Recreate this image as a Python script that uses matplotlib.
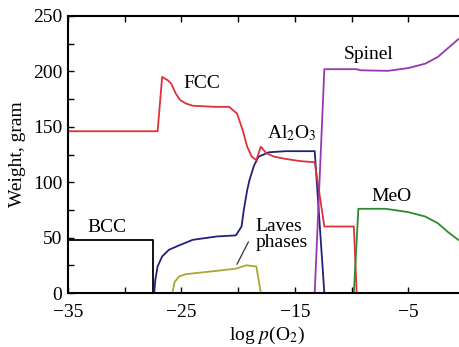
import numpy as np
import matplotlib
matplotlib.use("Agg")
import matplotlib.pyplot as plt

plt.rcParams["font.family"] = ["Liberation Serif", "DejaVu Serif"]
plt.rcParams["mathtext.fontset"] = "stix"

# 数据 (log p(O2), weight in gram)
bcc_x = [-35, -27.5, -27.5]
bcc_y = [48, 48, 0]

fcc_x = [-35, -27.1, -26.7, -26.2, -25.9, -25.5, -25.1, -24.6, -24.0, -22.0, -20.8,
         -20.1, -19.6, -19.2, -18.8, -18.4, -18.0, -17.5, -16.8, -15.8, -14.5,
         -13.25, -12.4, -9.8, -9.55]
fcc_y = [146, 146, 195, 192, 189, 180, 174, 171, 169, 168, 168,
         162, 147, 132, 123, 120, 132, 126, 123, 121, 119,
         118, 60, 60, 0]

al2o3_x = [-27.4, -27.3, -27.1, -26.7, -26.1, -25.2, -24.0, -21.9, -20.2, -19.7,
           -19.5, -19.2, -19.0, -18.6, -18.2, -17.3, -15.8, -13.25, -12.4]
al2o3_y = [0, 12, 24, 33, 39, 43, 48, 51, 52, 60,
           75, 93, 102, 115, 123, 127, 128, 128, 0]

laves_x = [-25.8, -25.6, -25.2, -24.6, -21.9, -20.2, -19.3, -18.4, -18.2, -18.0]
laves_y = [0, 10, 15, 17, 20, 22, 25, 24, 12, 0]

spinel_x = [-13.25, -12.4, -9.55, -9.2, -6.8, -5.0, -3.5, -2.4, -1.5, -0.6]
spinel_y = [0, 202, 202, 201, 200.5, 203, 207, 213, 221, 229]

meo_x = [-9.8, -9.4, -7.0, -5.0, -3.5, -2.4, -1.5, -0.6]
meo_y = [0, 76, 76, 73, 69, 63, 55, 48]

fig = plt.figure(figsize=(4.6, 3.47), dpi=100)
ax = fig.add_axes([68 / 460, 54 / 347, 397 / 460, 277 / 347])

lw = 1.3
ax.plot(bcc_x, bcc_y, color="black", lw=lw)
ax.plot(laves_x, laves_y, color="#a8a832", lw=lw)
ax.plot(al2o3_x, al2o3_y, color="#22227a", lw=lw)
ax.plot(fcc_x, fcc_y, color="#e0303a", lw=lw)
ax.plot(spinel_x, spinel_y, color="#9838b0", lw=lw)
ax.plot(meo_x, meo_y, color="#2e8a2e", lw=lw)

fs = 14
ax.text(-31.6, 59, "BCC", fontsize=fs, ha="center", va="center")
ax.text(-23.2, 189, "FCC", fontsize=fs, ha="center", va="center")
ax.text(-15.3, 144, "Al$_2$O$_3$", fontsize=fs, ha="center", va="center")
ax.text(-8.5, 215, "Spinel", fontsize=fs, ha="center", va="center")
ax.text(-6.5, 87, "MeO", fontsize=fs, ha="center", va="center")
ax.text(-18.5, 53, "Laves\nphases", fontsize=fs, ha="left", va="center", linespacing=0.95)
ax.plot([-19.1, -20.1], [46, 26], color="#333333", lw=0.9)

ax.set_xlim(-35, 0)
ax.set_ylim(0, 250)
ax.set_xticks([-35, -25, -15, -5])
ax.set_xticklabels(["\u221235", "\u221225", "\u221215", "\u22125"])
ax.set_xticks([-30, -20, -10], minor=True)
ax.set_yticks([0, 50, 100, 150, 200, 250])
ax.set_yticks([25, 75, 125, 175, 225], minor=True)
ax.tick_params(which="both", direction="in", top=True, right=True, labelsize=fs, width=1.0)
ax.tick_params(which="both", length=4)
ax.tick_params(axis="x", which="major", pad=8)
ax.tick_params(axis="y", which="major", pad=4)
for s in ax.spines.values():
    s.set_linewidth(1.5)

ax.set_ylabel("Weight, gram", fontsize=fs, labelpad=5)
ax.set_xlabel("log $p$(O$_2$)", fontsize=fs, labelpad=3)

fig.savefig("out.png", dpi=100)
